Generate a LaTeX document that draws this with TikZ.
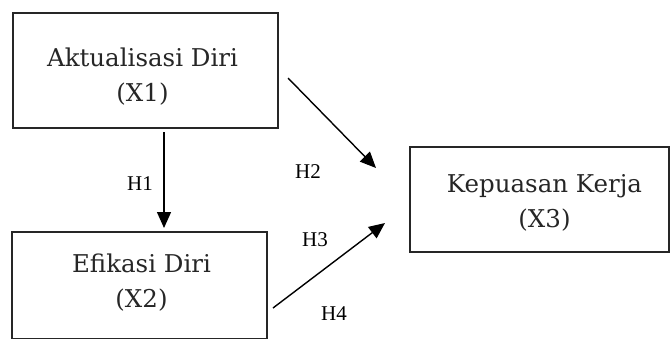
\documentclass[tikz,border=0pt]{standalone}
\usepackage{fontspec}
\setmainfont{DejaVu Serif}
\newfontfamily\hypfont{Liberation Serif}
\usetikzlibrary{arrows.meta}

\begin{document}
\begin{tikzpicture}[x=1pt,y=-1pt]
  \tikzset{BoxStyle/.style = {shape          = rectangle,
                              draw           = black!85,
                              line width     = 1.4pt,
                              inner sep      = 0pt,
                              outer sep      = 0pt}}
  \tikzset{TextStyle/.style = {align          = center,
                               text           = black!85,
                               font           = \fontsize{24.5}{35}\selectfont}}
  \tikzset{HypStyle/.style  = {text           = black,
                               font           = \hypfont\fontsize{21}{22}\selectfont}}
  \tikzset{ArrowStyle/.style = {line width     = 1.4pt,
                                -{Triangle[length=16pt,width=14pt]}}}

\useasboundingbox (0,0) rectangle (671,338);
\clip (0,0) rectangle (671,338);

\coordinate (P1) at (164,0);
\coordinate (A2) at (288,78);
\coordinate (B2) at (376,168);
\coordinate (A3) at (273,308);
\coordinate (B3) at (385,223);

\node[BoxStyle, minimum width=265pt, minimum height=115pt] (X1) at (145.5,70.5) {};
\node[BoxStyle, minimum width=255pt, minimum height=107pt] (X2) at (139.5,285.5) {};
\node[BoxStyle, minimum width=259pt, minimum height=105pt] (X3) at (539.5,199.5) {};

\node[TextStyle] (T1) at ([xshift=-3,yshift=-6]X1.center) {Aktualisasi Diri\\(X1)};
\node[TextStyle] (T2) at ([xshift=2,yshift=2.5]X2.center) {Efikasi Diri\\(X2)};
\node[TextStyle] (T3) at ([xshift=5,yshift=-3]X3.center) {Kepuasan Kerja\\(X3)};

\draw[ArrowStyle, shorten <=4pt, shorten >=4pt] (X1.south -| P1) -- (X2.north -| P1);
\draw[ArrowStyle] (A2) -- (B2);
\draw[ArrowStyle] (A3) -- (B3);

\node[HypStyle] (H1) at (140,184) {H1};
\node[HypStyle] (H2) at (308,172) {H2};
\node[HypStyle] (H3) at (315,240) {H3};
\node[HypStyle] (H4) at (334,314) {H4};

\end{tikzpicture}
\end{document}
